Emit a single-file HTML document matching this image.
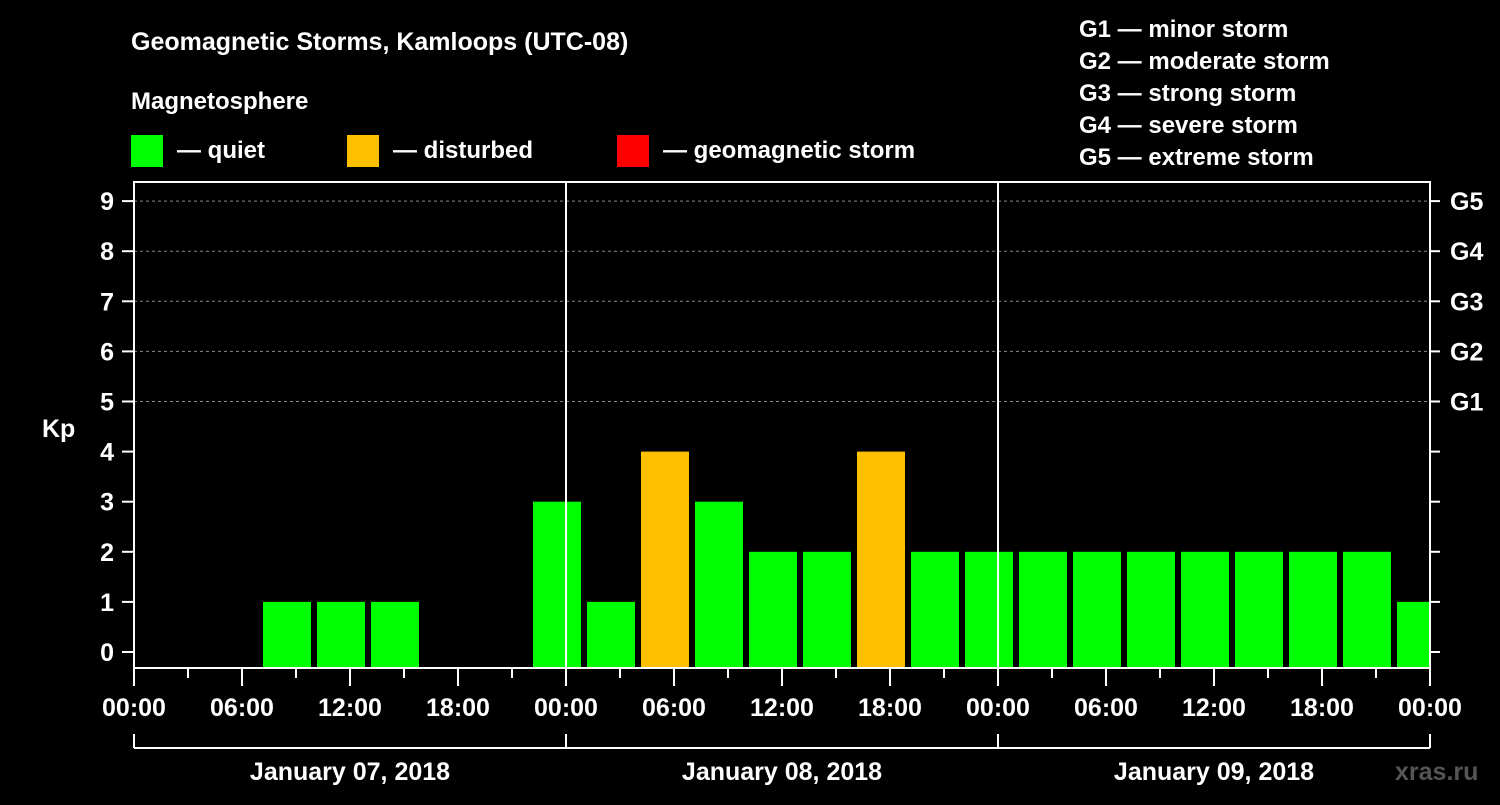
<!DOCTYPE html>
<html><head><meta charset="utf-8"><style>
body{margin:0;background:#000;width:1500px;height:800px;overflow:hidden}
svg{font-family:"Liberation Sans",sans-serif;font-weight:bold}
</style></head><body>
<svg id="c" width="1500" height="800">
<text x="131" y="50" fill="#fff" font-size="25">Geomagnetic Storms, Kamloops (UTC-08)</text>
<text x="131" y="109" fill="#fff" font-size="24">Magnetosphere</text>
<g><rect x="131" y="135" width="32" height="32" fill="#00ff00"/><text x="177" y="158" fill="#fff" font-size="24">— quiet</text></g>
<g><rect x="347" y="135" width="32" height="32" fill="#ffc000"/><text x="393" y="158" fill="#fff" font-size="24">— disturbed</text></g>
<g><rect x="617" y="135" width="32" height="32" fill="#ff0000"/><text x="663" y="158" fill="#fff" font-size="24">— geomagnetic storm</text></g>
<g fill="#fff" font-size="24">
<text x="1079" y="37">G1 — minor storm</text><text x="1079" y="69">G2 — moderate storm</text><text x="1079" y="101">G3 — strong storm</text><text x="1079" y="133">G4 — severe storm</text><text x="1079" y="165">G5 — extreme storm</text></g>
<text x="42" y="437" fill="#fff" font-size="25">Kp</text>
<text x="1395" y="780" fill="#555" font-size="25">xras.ru</text>
<g id="plot"></g>
</svg>
<script>
const startHours=[1,4,7,10,13,16,19,22,25,28,31,34,37,40,43,46,49,52,55,58,61,64,67,70];
const kpValues=[null,null,1,1,1,null,null,3,1,4,3,2,2,4,2,2,2,2,2,2,2,2,2,1];
const yTicks=[0,1,2,3,4,5,6,7,8,9];
const gLabels=["","","","","","G1","G2","G3","G4","G5"];
const xTickLabels=["00:00","06:00","12:00","18:00","00:00","06:00","12:00","18:00","00:00","06:00","12:00","18:00","00:00"];
const dayLabels=["January 07, 2018","January 08, 2018","January 09, 2018"];
const X0=134,X1=1430,TOTAL=72;
const x=h=>X0+(X1-X0)*h/TOTAL;
const y=v=>652-50.1*v;
const g=document.getElementById('plot');
const NS="http://www.w3.org/2000/svg";
function el(t,a){const e=document.createElementNS(NS,t);for(const k in a)e.setAttribute(k,a[k]);g.appendChild(e);return e;}
yTicks.forEach(v=>{
 if(v>=5){const l=el('line',{x1:X0,x2:X1,y1:y(v),y2:y(v),stroke:'#888','stroke-dasharray':'3,3','stroke-width':1});
 
 }
 const t=el('line',{x1:X0-12,x2:X0,y1:y(v),y2:y(v),stroke:'#fff','stroke-width':2});
 
 
 const t2=el('line',{x1:X1,x2:X1+10,y1:y(v),y2:y(v),stroke:'#fff','stroke-width':2});
 
 
 const tx=el('text',{x:X0-20,y:y(v)+9,fill:'#fff','font-size':25,'text-anchor':'end'});tx.textContent=v;
 
 
 if(gLabels[v]){const gt=el('text',{x:1450,y:y(v)+9,fill:'#fff','font-size':25});gt.textContent=gLabels[v];
 
 }
});
startHours.forEach((h,i)=>{const v=kpValues[i];if(v==null)return;
 const x0=x(h)+3,x1=Math.min(x(h+3)-3,X1);
 const r=el('rect',{x:x0,y:y(v),width:x1-x0,height:668-y(v),fill:v>=5?'#ff0000':v>=4?'#ffc000':'#00ff00'});
 
 });
[24,48].forEach(h=>{const l=el('line',{x1:x(h),x2:x(h),y1:182,y2:668,stroke:'#fff','stroke-width':2});
 
 });
const f=el('rect',{x:X0,y:182,width:X1-X0,height:486,fill:'none',stroke:'#fff','stroke-width':2});


for(let h=0;h<=72;h+=3){const m=h%6==0;const t=el('line',{x1:x(h),x2:x(h),y1:668,y2:m?686:678,stroke:'#fff','stroke-width':2});
 
 }
xTickLabels.forEach((s,i)=>{const t=el('text',{x:x(i*6),y:716,fill:'#fff','font-size':25,'text-anchor':'middle'});t.textContent=s;
 
 });
const b=el('line',{x1:X0,x2:X1,y1:748,y2:748,stroke:'#fff','stroke-width':2});


[0,24,48,72].forEach(h=>{const t=el('line',{x1:x(h),x2:x(h),y1:734,y2:748,stroke:'#fff','stroke-width':2});
 
 });
dayLabels.forEach((s,i)=>{const t=el('text',{x:x(i*24+12),y:780,fill:'#fff','font-size':25,'text-anchor':'middle'});t.textContent=s;
 
 });
</script>
</body></html>
